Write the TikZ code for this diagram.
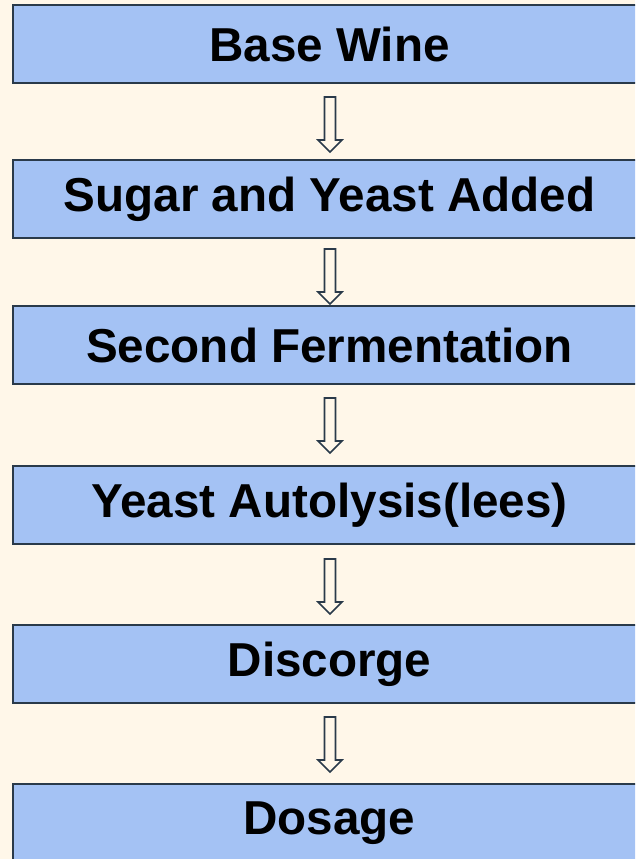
\documentclass[tikz,border=0pt]{standalone}
\usepackage{fontspec}
\setmainfont{Liberation Sans}
\usetikzlibrary{calc}
\definecolor{bgcream}{HTML}{FFF7E9}
\definecolor{boxblue}{HTML}{A4C2F4}
\definecolor{edgedark}{HTML}{2A3A4A}
\tikzset{
  stagebox/.style={draw=edgedark, line width=2pt, fill=boxblue, anchor=north west,
    minimum width=633pt, minimum height=78pt, inner sep=0pt,
    font=\bfseries\fontsize{47.6}{56}\selectfont, text=black},
  blockarrow/.style={draw=edgedark, line width=1.6pt, fill=bgcream, line join=miter}
}
\newcommand{\stagetext}[1]{\raisebox{-4.5pt}{#1}}
\begin{document}
\begin{tikzpicture}[x=1pt,y=-1pt]
\fill[bgcream] (0,0) rectangle (635,859);
\useasboundingbox (0,0) rectangle (635,859);
\clip (0,0) rectangle (635,859);
\node[stagebox] (b1) at (12,4)   {\stagetext{Base Wine}};
\node[stagebox] (b2) at (12,159) {\stagetext{Sugar and Yeast Added}};
\node[stagebox] (b3) at (12,305) {\stagetext{Second Fermentation}};
\node[stagebox] (b4) at (12,465) {\stagetext{Yeast Autolysis(lees)}};
\node[stagebox] (b5) at (12,624) {\stagetext{Discorge}};
\node[stagebox] (b6) at (12,783) {\stagetext{Dosage}};
\foreach \a/\b/\off in {b1/b2/13,b2/b3/10,b3/b4/13,b4/b5/14,b5/b6/13}{
  \draw[blockarrow, shift={($(\a.south)+(0.5,\off)$)}]
    (-5.5,0) -- (5.5,0) -- (5.5,43) -- (12,43) -- (0,55) -- (-12,43) -- (-5.5,43) -- cycle;
}
\end{tikzpicture}
\end{document}
